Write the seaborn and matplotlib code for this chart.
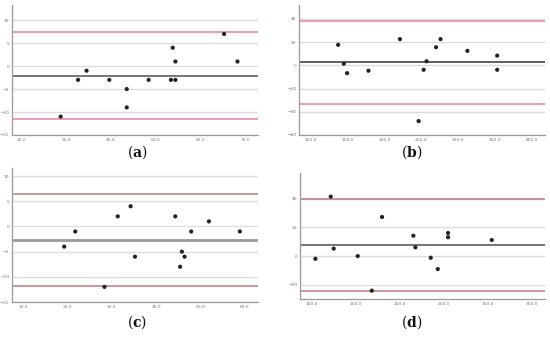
import numpy as np
import pandas as pd
import matplotlib
matplotlib.use('Agg')
import matplotlib.pyplot as plt
import seaborn as sns
from matplotlib.ticker import FormatStrFormatter

sns.set_style('white')
plt.rcParams['font.family'] = ['DejaVu Sans']
plt.rcParams['mathtext.fontset'] = 'dejavuserif'

# panel (a)
a_mean = [28.7, 32.6, 34.5, 39.6, 43.5, 43.5, 48.4, 53.4, 53.8, 54.4, 54.4, 65.3, 68.3]
a_diff = [-11, -3, -1, -3, -5, -9, -3, -3, 4, 1, -3, 7, 1]
a_bias, a_upper, a_lower = -2.1, 7.5, -11.5

# panel (b)
b_mean = [136.8, 144.5, 149.0, 178.0, 220.8, 246.2, 253.0, 257.0, 269.9, 276.0, 312.5, 353.0, 353.0]
b_diff = [17.7, 1.4, -6.7, -4.6, 22.6, -48.0, -3.8, 3.5, 15.6, 22.6, 12.5, 8.4, -3.8]
b_bias, b_upper, b_lower = 2.9, 38.3, -33.0

# panel (c)
c_mean = [19.2, 21.7, 28.3, 31.3, 34.2, 35.2, 44.3, 45.4, 45.8, 46.4, 47.9, 51.9, 58.9]
c_diff = [-4, -1, -12, 2, 4, -6, 2, -8, -5, -6, -1, 1, -1]
c_bias, c_upper, c_lower = -2.66, 6.4, -11.8

# panel (d)
d_mean = [104.2, 121.6, 125.0, 152.3, 168.2, 179.9, 215.5, 217.8, 235.2, 243.2, 254.9, 254.9, 304.5]
d_diff = [-1.9, 41.5, 5.2, 0.0, -24.2, 27.3, 14.2, 6.1, -1.2, -9.1, 16.1, 13.1, 11.2]
d_bias, d_upper, d_lower = 7.5, 39.8, -24.5

W, H = 550, 338
fig = plt.figure(figsize=(W / 100, H / 100), dpi=100)


def make_ax(l, r, t, b):
    return fig.add_axes([l / W, 1 - b / H, (r - l) / W, (b - t) / H])


def panel(ax, x, y, bias, up, lo, xlim, ylim, xticks, yticks, loa_col, bias_lw, bias_col):
    df = pd.DataFrame({'avg': x, 'diff': y})
    for yt in yticks:
        ax.axhline(yt, color='#dcdcdc', lw=1.0, zorder=0)
    ax.axhline(up, color=loa_col, lw=1.1, zorder=1)
    ax.axhline(lo, color=loa_col, lw=1.1, zorder=1)
    ax.axhline(bias, color=bias_col, lw=bias_lw, zorder=1)
    sns.scatterplot(data=df, x='avg', y='diff', ax=ax, color='#222222',
                    s=9, edgecolor='none', zorder=3)
    ax.set_xlim(*xlim)
    ax.set_ylim(*ylim)
    ax.set_xticks(xticks)
    ax.set_yticks(yticks)
    ax.xaxis.set_major_formatter(FormatStrFormatter('%.1f'))
    ax.set_xlabel('')
    ax.set_ylabel('')
    ax.tick_params(labelsize=3.2, colors='#777777', length=0, pad=2)
    for s in ['top', 'right']:
        ax.spines[s].set_visible(False)
    for s in ['left', 'bottom']:
        ax.spines[s].set_color('#9a9a9a')
        ax.spines[s].set_linewidth(0.9)


ax_a = make_ax(12, 258, 5, 135)
panel(ax_a, a_mean, a_diff, a_bias, a_upper, a_lower, (17.8, 72.9), (-15, 13.3),
      [20, 30, 40, 50, 60, 70], [-15, -10, -5, 0, 5, 10], '#f27a96', 1.1, '#505050')

ax_b = make_ax(299, 545, 5, 135)
panel(ax_b, b_mean, b_diff, b_bias, b_upper, b_lower, (83.6, 418), (-60, 52),
      [100, 150, 200, 250, 300, 350, 400], [-60, -40, -20, 0, 20, 40], '#f27a96', 1.3, '#505050')

ax_c = make_ax(12, 258, 168, 302)
panel(ax_c, c_mean, c_diff, c_bias, c_upper, c_lower, (7.4, 63), (-15, 11.6),
      [10, 20, 30, 40, 50, 60], [-15, -10, -5, 0, 5, 10], '#c87878', 2.0, '#9a9a9a')

ax_d = make_ax(300, 545, 173, 299)
panel(ax_d, d_mean, d_diff, d_bias, d_upper, d_lower, (86.7, 365), (-30, 58),
      [100, 150, 200, 250, 300, 350], [-20, 0, 20, 40], '#c87878', 1.1, '#505050')

for lab, x, y in [('a', 137, 152), ('b', 412, 152), ('c', 137, 322), ('d', 412, 322)]:
    fig.text(x / W, 1 - y / H, r'($\mathbf{%s}$)' % lab, ha='center', va='center',
             fontsize=10, family='DejaVu Serif', color='#111111')

fig.savefig('out.png', dpi=100, facecolor='white')
